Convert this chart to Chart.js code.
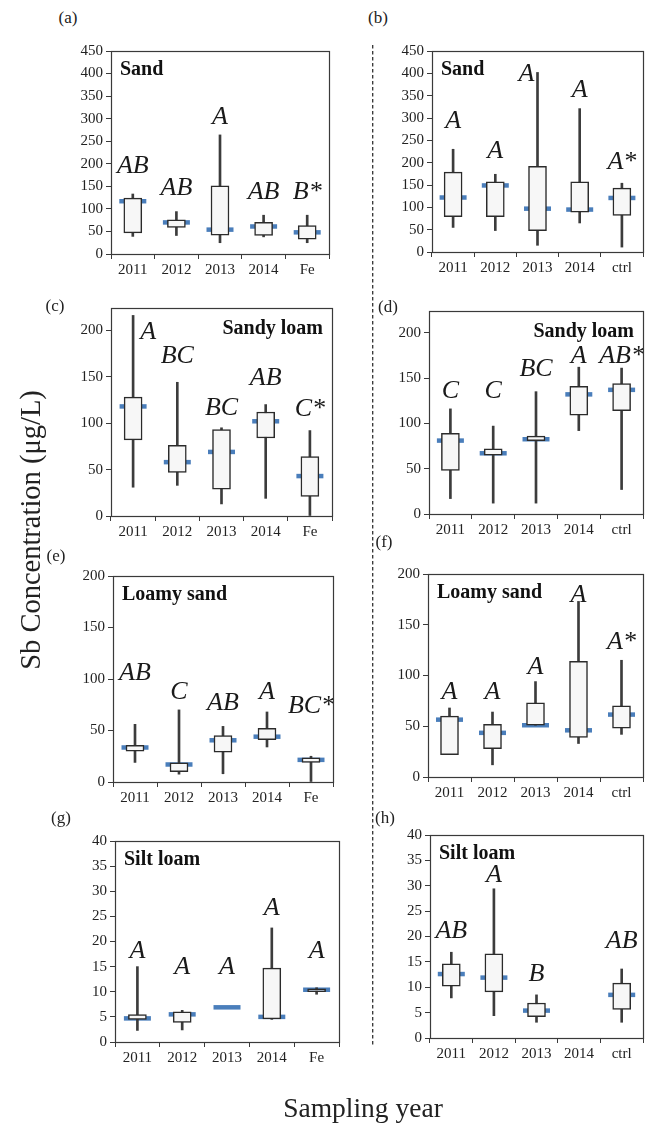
<!DOCTYPE html>
<html><head><meta charset="utf-8">
<script src="https://cdn.jsdelivr.net/npm/chart.js@4"></script>
<style>
html,body{margin:0;padding:0;background:#fff;}
body{width:654px;height:1124px;position:relative;overflow:hidden;font-family:'Liberation Serif','Times New Roman',serif;color:#222;}
canvas{position:absolute;}
.lbl{position:absolute;font-size:17px;transform:translate(-50%,-50%);white-space:nowrap;}
.title{position:absolute;font-size:27.5px;white-space:nowrap;transform:translate(-50%,-50%);}
</style></head><body>

<script>
// ---------- DATA ----------
const catsLeft  = ['2011','2012','2013','2014','Fe'];
const catsRight = ['2011','2012','2013','2014','ctrl'];

// (a) Sand
const aWhiskerLow  = [39, 41, 25, 38, 25];
const aWhiskerHigh = [133, 94, 264, 86, 86];
const aBoxLow      = [47, 59, 42, 41, 33];
const aBoxHigh     = [124, 76, 151, 70, 63];
const aMedian      = [117, 70, 54, 61, 48];
const aLetters     = ['AB','AB','A','AB','B*'];
const aLetterY     = [198, 150, 307, 142, 142];

// (b) Sand
const bWhiskerLow  = [55, 48, 15, 65, 11];
const bWhiskerHigh = [230, 174, 402, 321, 154];
const bBoxLow      = [79, 79, 48, 89, 82];
const bBoxHigh     = [179, 157, 192, 157, 143];
const bMedian      = [122, 149, 97, 95, 121];
const bLetters     = ['A','A','A','A','A*'];
const bLetterY     = [296, 230, 402, 366, 206];

// (c) Sandy loam
const cWhiskerLow  = [31, 33, 13, 19, 0];
const cWhiskerHigh = [216, 144, 95, 120, 92];
const cBoxLow      = [82, 47, 29, 84, 21];
const cBoxHigh     = [128, 76, 93, 112, 64];
const cMedian      = [118, 58, 69, 102, 43];
const cLetters     = ['A','BC','BC','AB','C*'];
const cLetterY     = [200, 174, 118, 150, 117];

// (d) Sandy loam
const dWhiskerLow  = [17, 12, 12, 92, 27];
const dWhiskerHigh = [116, 97, 135, 162, 161];
const dBoxLow      = [48, 65, 81, 109, 114];
const dBoxHigh     = [89, 72, 86, 141, 144];
const dMedian      = [81, 67, 82.5, 132, 137];
const dLetters     = ['C','C','BC','A','AB*'];
const dLetterY     = [137, 137, 162, 176, 176];

// (e) Loamy sand
const eWhiskerLow  = [19, 7.6, 8, 34, 0];
const eWhiskerHigh = [56, 70, 54, 68, 25];
const eBoxLow      = [30, 10, 29, 41, 19];
const eBoxHigh     = [35.5, 18.5, 45, 52, 23.5];
const eMedian      = [33.5, 17, 40.5, 44, 21.5];
const eLetters     = ['AB','C','AB','A','BC*'];
const eLetterY     = [107, 89, 78, 89, 75];

// (f) Loamy sand
const fWhiskerLow  = [22, 12, 51, 33, 42];
const fWhiskerHigh = [68, 64, 94, 173, 115];
const fBoxLow      = [22, 28, 51, 39, 48];
const fBoxHigh     = [60, 52, 73, 114, 70];
const fMedian      = [56.5, 43.5, 51, 46, 61.5];
const fLetters     = ['A','A','A','A','A*'];
const fLetterY     = [85.5, 85.5, 110, 181, 135];

// (g) Silt loam
const gWhiskerLow  = [2.3, 2.4, null, 4.5, 9.5];
const gWhiskerHigh = [15, 6.3, null, 22.7, 10.8];
const gBoxLow      = [4.5, 3.9, null, 4.6, 10];
const gBoxHigh     = [5.45, 6, null, 14.7, 10.6];
const gMedian      = [4.7, 5.5, 6.9, 5, 10.4];
const gLetters     = ['A','A','A','A','A'];
const gLetterY     = [18.5, 15.3, 15.3, 27, 18.5];

// (h) Silt loam
const hWhiskerLow  = [7.9, 4.4, 3.1, null, 3.1];
const hWhiskerHigh = [16.9, 29.4, 8.5, null, 13.6];
const hBoxLow      = [10.2, 9.1, 4.2, null, 5.65];
const hBoxHigh     = [14.6, 16.6, 6.9, null, 10.8];
const hMedian      = [12.6, 11.9, 5.4, null, 8.5];
const hLetters     = ['AB','A','B','','AB'];
const hLetterY     = [21.4, 32.4, 12.9, null, 19.5];

// y-axis ranges
const yMaxSand = 450, yStepSand = 50;
const yMaxSandyLoam = 224, yStepSandyLoam = 50;
const yMaxLoamySand = 200, yStepLoamySand = 50;
const yMaxSiltLoam = 40, yStepSiltLoam = 5;

// ---------- LAYOUT ----------
const YW = 50, PT = 14, PR = 10, XH = 30;
const FONT = "'Liberation Serif','Times New Roman',serif";

const panels = [
  {tag:'(a)', tagPos:[68,18], cats:catsLeft,  wl:aWhiskerLow, wh:aWhiskerHigh, bl:aBoxLow, bh:aBoxHigh, med:aMedian, let:aLetters, ly:aLetterY, max:yMaxSand, step:yStepSand, title:'Sand', align:'left', rect:[111,47,337,254], nudge:[0,0,0,0,0]},
  {tag:'(b)', tagPos:[378,18], cats:catsRight, wl:bWhiskerLow, wh:bWhiskerHigh, bl:bBoxLow, bh:bBoxHigh, med:bMedian, let:bLetters, ly:bLetterY, max:yMaxSand, step:yStepSand, title:'Sand', align:'left', rect:[432,47,651,252], nudge:[0,0,-11,0,0]},
  {tag:'(c)', tagPos:[55,306], cats:catsLeft,  wl:cWhiskerLow, wh:cWhiskerHigh, bl:cBoxLow, bh:cBoxHigh, med:cMedian, let:cLetters, ly:cLetterY, max:yMaxSandyLoam, step:yStepSandyLoam, title:'Sandy loam', align:'right', rect:[111,304,340,516], nudge:[15,0,0,0,0]},
  {tag:'(d)', tagPos:[388,307], cats:catsRight, wl:dWhiskerLow, wh:dWhiskerHigh, bl:dBoxLow, bh:dBoxHigh, med:dMedian, let:dLetters, ly:dLetterY, max:yMaxSandyLoam, step:yStepSandyLoam, title:'Sandy loam', align:'right', rect:[429,307,651,514], nudge:[0,0,0,0,0]},
  {tag:'(e)', tagPos:[56,556], cats:catsLeft,  wl:eWhiskerLow, wh:eWhiskerHigh, bl:eBoxLow, bh:eBoxHigh, med:eMedian, let:eLetters, ly:eLetterY, max:yMaxLoamySand, step:yStepLoamySand, title:'Loamy sand', align:'left', rect:[113,572,341,782], nudge:[0,0,0,0,0]},
  {tag:'(f)', tagPos:[384,542], cats:catsRight, wl:fWhiskerLow, wh:fWhiskerHigh, bl:fBoxLow, bh:fBoxHigh, med:fMedian, let:fLetters, ly:fLetterY, max:yMaxLoamySand, step:yStepLoamySand, title:'Loamy sand', align:'left', rect:[428,570,651,777], nudge:[0,0,0,0,0]},
  {tag:'(g)', tagPos:[61,818], cats:catsLeft,  wl:gWhiskerLow, wh:gWhiskerHigh, bl:gBoxLow, bh:gBoxHigh, med:gMedian, let:gLetters, ly:gLetterY, max:yMaxSiltLoam, step:yStepSiltLoam, title:'Silt loam', align:'left', rect:[115,837,347,1042], nudge:[0,0,0,0,0]},
  {tag:'(h)', tagPos:[385,818], cats:catsRight, wl:hWhiskerLow, wh:hWhiskerHigh, bl:hBoxLow, bh:hBoxHigh, med:hMedian, let:hLetters, ly:hLetterY, max:yMaxSiltLoam, step:yStepSiltLoam, title:'Silt loam', align:'left', rect:[430,831,651,1038], nudge:[0,0,0,0,0]}
];

const deco = {
  id:'deco',
  afterDatasetsDraw(chart){
    const p = chart.options.plugins.deco.panel;
    const ctx = chart.ctx, a = chart.chartArea;
    const xs = chart.scales.x, ys = chart.scales.y;
    ctx.save();
    const ls = 26;
    ctx.font = 'italic ' + ls + 'px ' + FONT;
    ctx.fillStyle = '#1a1a1a';
    ctx.textAlign = 'center';
    ctx.textBaseline = 'alphabetic';
    p.let.forEach((t,i)=>{
      if(!t || p.ly[i]==null) return;
      const x = xs.getPixelForValue(i) + p.nudge[i];
      const y = ys.getPixelForValue(p.ly[i]) + ls*0.33;
      ctx.fillText(t, x, y);
    });
    ctx.font = 'bold 20px ' + FONT;
    ctx.fillStyle = '#111';
    if(p.align === 'left'){
      ctx.textAlign = 'left';
      ctx.fillText(p.title, a.left + 9, a.top + 24);
    } else {
      ctx.textAlign = 'right';
      ctx.fillText(p.title, a.right - 9, a.top + 26);
    }
    ctx.restore();
  },
  afterDraw(chart){
    const ctx = chart.ctx, a = chart.chartArea;
    ctx.save();
    ctx.strokeStyle = '#3a3a3a';
    ctx.lineWidth = 1.2;
    ctx.strokeRect(Math.round(a.left)+0.5, Math.round(a.top)+0.5, Math.round(a.right-a.left), Math.round(a.bottom-a.top));
    ctx.restore();
  }
};

function makeChart(p){
  const [L,T,R,B] = p.rect;
  const cv = document.createElement('canvas');
  const W = R - L + YW + PR, H = B - T + PT + XH;
  cv.width = W; cv.height = H;
  cv.style.left = (L - YW) + 'px';
  cv.style.top = (T - PT) + 'px';
  cv.style.width = W + 'px'; cv.style.height = H + 'px';
  document.body.appendChild(cv);

  const boxes = p.bl.map((v,i)=> v==null ? null : [v, p.bh[i]]);
  const whisk = p.wl.map((v,i)=> v==null ? null : [v, p.wh[i]]);

  new Chart(cv, {
    type:'bar',
    data:{
      labels:p.cats,
      datasets:[
        {type:'bar', data:boxes, barThickness:18, backgroundColor:'#f7f7f7', borderColor:'#2b2b2b', borderWidth:1.5, borderSkipped:false, grouped:false, order:0},
        {type:'bar', data:whisk, barThickness:2, backgroundColor:'#3c3c3c', borderWidth:0, grouped:false, order:1},
        {type:'line', data:p.med, showLine:false, pointStyle:'line', pointRadius:13.5, pointHoverRadius:13.5, pointBorderWidth:4.5, pointHoverBorderWidth:4.5, pointBorderColor:'#4a7ebb', pointBackgroundColor:'#4a7ebb', order:2}
      ]
    },
    options:{
      responsive:false, animation:false, devicePixelRatio:1,
      events:[],
      layout:{padding:{top:PT, right:PR, left:0, bottom:0}},
      plugins:{legend:{display:false}, tooltip:{enabled:false}, deco:{panel:p}},
      scales:{
        x:{
          offset:true,
          grid:{display:true, offset:true, drawOnChartArea:false, drawTicks:true, tickLength:5, color:'#3a3a3a', lineWidth:1},
          border:{display:true, color:'#3a3a3a', width:1},
          ticks:{font:{family:FONT, size:15}, color:'#222', padding:2, maxRotation:0, autoSkip:false},
          afterFit(s){ s.height = XH; }
        },
        y:{
          min:0, max:p.max,
          ticks:{stepSize:p.step, font:{family:FONT, size:15}, color:'#222', padding:3},
          grid:{display:true, drawOnChartArea:false, drawTicks:true, tickLength:5, color:'#3a3a3a'},
          border:{display:true, color:'#3a3a3a', width:1},
          afterFit(s){ s.width = YW; },
          afterBuildTicks(s){ s.ticks = s.ticks.filter(t => Math.abs(t.value/p.step - Math.round(t.value/p.step)) < 1e-6); }
        }
      }
    },
    plugins:[deco]
  });

  const tg = document.createElement('div');
  tg.className = 'lbl';
  tg.textContent = p.tag;
  tg.style.left = p.tagPos[0] + 'px';
  tg.style.top = p.tagPos[1] + 'px';
  document.body.appendChild(tg);
}

panels.forEach(makeChart);

// dashed separator
const svgNS = 'http://www.w3.org/2000/svg';
const svg = document.createElementNS(svgNS, 'svg');
svg.setAttribute('width','654'); svg.setAttribute('height','1124');
svg.style.position='absolute'; svg.style.left='0'; svg.style.top='0'; svg.style.pointerEvents='none';
const ln = document.createElementNS(svgNS, 'line');
ln.setAttribute('x1','372.7'); ln.setAttribute('x2','372.7');
ln.setAttribute('y1','45'); ln.setAttribute('y2','1046');
ln.setAttribute('stroke','#333'); ln.setAttribute('stroke-width','1.3');
ln.setAttribute('stroke-dasharray','3.5,2.5');
svg.appendChild(ln);
document.body.appendChild(svg);

// axis titles
const yt = document.createElement('div');
yt.className = 'title';
yt.style.fontSize = '28.5px';
yt.textContent = 'Sb Concentration (μg/L)';
yt.style.left = '31px'; yt.style.top = '530px';
yt.style.transform = 'translate(-50%,-50%) rotate(-90deg)';
document.body.appendChild(yt);

const xt = document.createElement('div');
xt.className = 'title';
xt.textContent = 'Sampling year';
xt.style.left = '363px'; xt.style.top = '1108px';
document.body.appendChild(xt);
</script>
</body></html>
